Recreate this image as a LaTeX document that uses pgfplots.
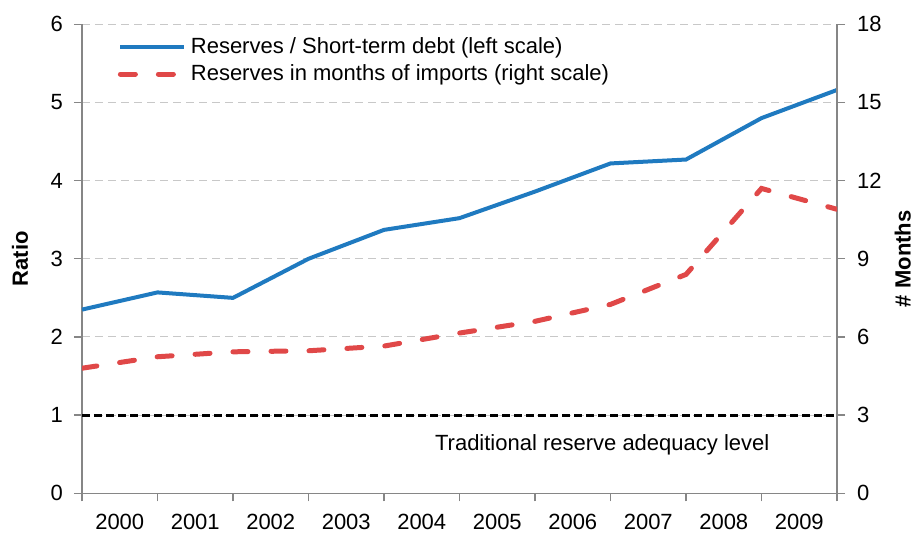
\documentclass[border=0pt]{standalone}
\usepackage{fontspec}
\setmainfont{Liberation Sans}
\usepackage{pgfplots}
\pgfplotsset{compat=1.18}

\definecolor{serblue}{RGB}{31,122,192}
\definecolor{serred}{RGB}{224,72,72}
\definecolor{axgray}{RGB}{134,134,134}
\definecolor{gridgray}{RGB}{200,200,200}

\pgfplotsset{
  common/.style={
    scale only axis, width=377.5pt, height=234.5pt,
    xmin=0, xmax=10,
    font=\fontsize{11}{13}\selectfont,
    /pgf/number format/assume math mode=true,
    tick align=outside,
    axis line style={draw=axgray, line width=0.7pt},
    major tick length=4pt,
    every tick/.style={axgray, line width=0.7pt},
  }
}

\begin{document}
\begin{tikzpicture}
% left scale: ratio
\begin{axis}[common,
  axis y line*=left, axis x line*=bottom,
  ymin=0, ymax=6, ytick={0,...,6},
  yticklabel style={xshift=-2pt},
  xtick={0,...,10}, xticklabels={},
  extra x ticks={0.5,1.5,...,9.5},
  extra x tick labels={2000,2001,2002,2003,2004,2005,2006,2007,2008,2009},
  extra x tick style={major tick length=0pt, xticklabel style={yshift=-7pt}},
  ymajorgrids,
  major grid style={gridgray, dash pattern=on 4pt off 2.5pt, line width=0.5pt},
  ylabel={\textbf{Ratio}},
  ylabel style={at={(axis description cs:-0.082,0.5)}, anchor=center},
  legend style={at={(axis description cs:0.047,0.981)}, anchor=north west,
    draw=none, fill=none, inner sep=0pt, row sep=0pt,
    font=\fontsize{11}{13}\selectfont},
  legend cell align=left,
  legend image code/.code={\draw[#1] (0pt,0pt) -- (32pt,0pt);},
]
\coordinate (bl) at (rel axis cs:0,0);
\coordinate (tr) at (rel axis cs:1,1);
\addplot[black, line width=1.5pt, dash pattern=on 4pt off 2pt, forget plot]
  coordinates {(0,1) (10,1)};
\addplot[serblue, line width=2pt] coordinates {
  (0,2.35) (1,2.57) (2,2.50) (3,3.00) (4,3.37) (5,3.52)
  (6,3.86) (7,4.22) (8,4.27) (9,4.80) (10,5.16)};
\addlegendentry{Reserves / Short-term debt (left scale)}
\addlegendimage{serred, line width=2.5pt, line cap=round, dash pattern=on 7.5pt off 11.5pt}
\addlegendentry{Reserves in months of imports (right scale)}
\node at (axis cs:6.89,0.62) {Traditional reserve adequacy level};
\end{axis}
% right scale: months of imports
\begin{axis}[common,
  axis y line*=right, axis x line=none,
  ymin=0, ymax=18, ytick={0,3,...,18},
  yticklabel style={xshift=2.5pt},
  ylabel={\textbf{\# Months}},
  ylabel style={at={(axis description cs:1.087,0.5)}, anchor=center},
]
\addplot[serred, line width=2.5pt, line cap=round, dash pattern=on 7.5pt off 11.5pt]
  coordinates {
  (0,4.8) (1,5.24) (2,5.43) (3,5.47) (4,5.65) (5,6.15)
  (6,6.6) (7,7.25) (8,8.4) (9,11.7) (10,10.9)};
\end{axis}
\pgfresetboundingbox
\path[use as bounding box] ([xshift=-41pt,yshift=-19.85pt]bl) rectangle ([xshift=40.5pt,yshift=12.15pt]tr);
\end{tikzpicture}
\end{document}
